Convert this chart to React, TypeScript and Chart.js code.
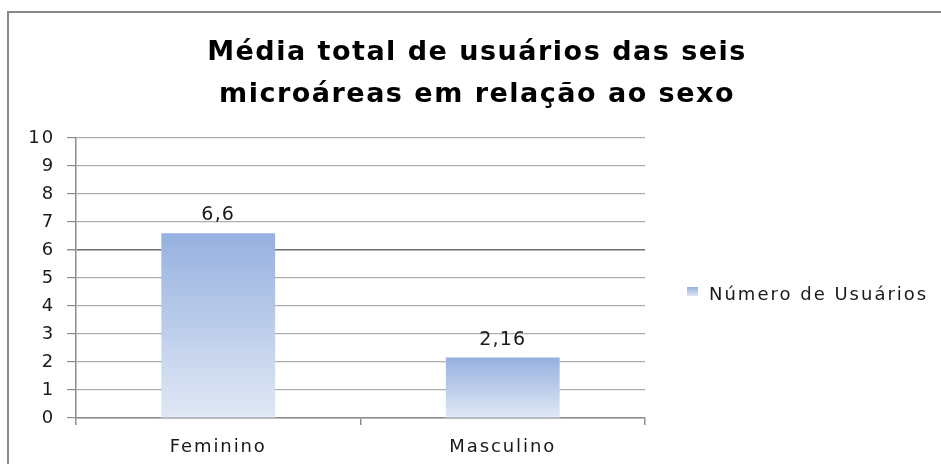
import React, { useEffect, useRef } from "react";
import { Chart, registerables } from "chart.js";

Chart.register(...registerables);

const titleLines = ["Média total de usuários das seis", "microáreas em relação ao sexo"];
const categories = ["Feminino", "Masculino"];
const seriesName = "Número de Usuários";
const values = [6.6, 2.16];
const valueLabels = ["6,6", "2,16"];
const yTicks = [0, 1, 2, 3, 4, 5, 6, 7, 8, 9, 10];

const FONT = "'DejaVu Sans', sans-serif";
const LS = "1.9px";

const spacingPlugin = {
  id: "spacing",
  beforeLayout(chart: any) {
    chart.ctx.letterSpacing = LS;
  },
  beforeDraw(chart: any) {
    chart.ctx.letterSpacing = LS;
  },
};

const decorPlugin = {
  id: "decor",
  afterDraw(chart: any) {
    const ctx = chart.ctx;
    ctx.save();
    // title
    ctx.letterSpacing = "1.5px";
    ctx.fillStyle = "#000";
    ctx.font = "bold 27px " + FONT;
    ctx.textAlign = "center";
    ctx.textBaseline = "alphabetic";
    ctx.fillText(titleLines[0], 477, 60);
    ctx.fillText(titleLines[1], 477, 102);
    // data labels
    ctx.letterSpacing = "1.2px";
    ctx.font = "19px " + FONT;
    ctx.fillStyle = "#1a1a1a";
    const meta = chart.getDatasetMeta(0);
    meta.data.forEach((bar: any, i: number) => {
      ctx.fillText(valueLabels[i], bar.x, bar.y - 13);
    });
    // legend
    const sx = 687, sy = 287;
    const g = ctx.createLinearGradient(0, sy, 0, sy + 9);
    g.addColorStop(0, "#97b2e0");
    g.addColorStop(1, "#dce4f3");
    ctx.fillStyle = g;
    ctx.fillRect(sx, sy, 11, 9);
    ctx.fillStyle = "#1a1a1a";
    ctx.textAlign = "left";
    ctx.textBaseline = "alphabetic";
    ctx.letterSpacing = "2px";
    ctx.font = "18px " + FONT;
    ctx.fillText(seriesName, 709, 300);
    ctx.restore();
  },
};

export default function App() {
  const ref = useRef<HTMLCanvasElement>(null);
  useEffect(() => {
    const canvas = ref.current!;
    const chart = new Chart(canvas, {
      type: "bar",
      data: {
        labels: categories,
        datasets: [
          {
            label: seriesName,
            data: values,
            barPercentage: 0.4,
            categoryPercentage: 1,
            borderWidth: 0,
            backgroundColor: (c: any) => {
              const ch = c.chart;
              const area = ch.chartArea;
              if (!area || c.dataIndex === undefined) return "#a3bbe3";
              const ys = ch.scales.y;
              const top = ys.getPixelForValue(values[c.dataIndex]);
              const bottom = ys.getPixelForValue(0);
              const g = ch.ctx.createLinearGradient(0, top, 0, bottom);
              g.addColorStop(0, "#96b1e0");
              g.addColorStop(1, "#e1e8f5");
              return g;
            },
          },
        ],
      },
      options: {
        animation: false,
        responsive: false,
        events: [],
        layout: { padding: { top: 138, right: 296, left: 0, bottom: 0 } },
        plugins: {
          legend: { display: false },
          title: { display: false },
          tooltip: { enabled: false },
        },
        scales: {
          x: {
            afterFit: (s: any) => {
              s.height = 46;
            },
            grid: {
              offset: true,
              drawOnChartArea: false,
              drawTicks: true,
              tickLength: 7,
              color: "#8c8c8c",
              lineWidth: 1.5,
            },
            border: { color: "#8c8c8c", width: 1.5 },
            ticks: {
              color: "#1a1a1a",
              font: { family: FONT, size: 18 },
              padding: 12,
            },
          },
          y: {
            min: 0,
            max: 10,
            afterFit: (s: any) => {
              s.width = 76;
            },
            afterBuildTicks: (s: any) => {
              s.ticks = yTicks.map((v) => ({ value: v }));
            },
            grid: {
              color: (c: any) => (c.tick && c.tick.value === 6 ? "#6e6e6e" : "#adadad"),
              lineWidth: (c: any) => (c.tick && c.tick.value === 6 ? 1.5 : 1.2),
              tickLength: 9,
              tickColor: "#8c8c8c",
            },
            border: { color: "#8c8c8c", width: 1.5 },
            ticks: {
              color: "#1a1a1a",
              font: { family: FONT, size: 18 },
              padding: 12,
              stepSize: 1,
            },
          },
        },
      },
      plugins: [spacingPlugin, decorPlugin],
    });
    return () => chart.destroy();
  }, []);
  return (
    <div style={{ position: "fixed", left: 0, top: 0, width: 941, height: 464, background: "#fff", overflow: "hidden" }}>
      <div
        style={{
          position: "absolute",
          left: 7,
          top: 11,
          width: 1000,
          height: 600,
          border: "2px solid #8a8a8a",
          boxSizing: "border-box",
        }}
      />
      <canvas ref={ref} width={941} height={464} style={{ position: "absolute", left: 0, top: 0 }} />
    </div>
  );
}
